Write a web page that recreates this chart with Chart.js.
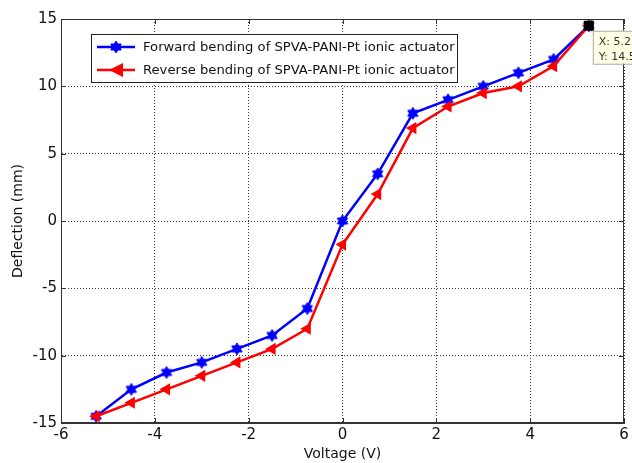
<!DOCTYPE html>
<html>
<head>
<meta charset="utf-8">
<script src="https://cdn.jsdelivr.net/npm/chart.js@4"></script>
<style>
  html, body { margin: 0; padding: 0; background: #fff; }
  #wrap { width: 632px; height: 463px; }
</style>
</head>
<body>
<div id="wrap"><canvas id="kmChart" width="632" height="463"></canvas></div>
<script>
// dados
const voltagens = [-5.25, -4.5, -3.75, -3, -2.25, -1.5, -0.75, 0, 0.75, 1.5, 2.25, 3, 3.75, 4.5, 5.25];
const forward = [-14.5, -12.5, -11.25, -10.5, -9.5, -8.5, -6.5, 0, 3.5, 8, 9, 10, 11, 12, 14.5];
const reverse = [-14.5, -13.5, -12.5, -11.5, -10.5, -9.5, -8, -1.75, 2, 6.9, 8.5, 9.5, 10, 11.5, 14.5];
const xTicks = [-6, -4, -2, 0, 2, 4, 6];
const yTicks = [-15, -10, -5, 0, 5, 10, 15];
const nomes = ["Forward bending of SPVA-PANI-Pt ionic actuator", "Reverse bending of SPVA-PANI-Pt ionic actuator"];
const dataTip = { x: 5.25, y: 14.5 };

const FONTE = '"DejaVu Sans", Verdana, sans-serif';

// marcador hexagrama (estrela de 6 pontas)
function hexagrama(cor, r) {
  const c = document.createElement("canvas");
  const s = Math.ceil(r * 2 + 4);
  c.width = s; c.height = s;
  const g = c.getContext("2d");
  g.fillStyle = cor;
  g.strokeStyle = cor;
  g.lineWidth = 1;
  const cx = s / 2, cy = s / 2;
  for (const off of [-Math.PI / 2, Math.PI / 2]) {
    g.beginPath();
    for (let i = 0; i < 3; i++) {
      const a = off + i * 2 * Math.PI / 3;
      const px = cx + r * Math.cos(a), py = cy + r * Math.sin(a);
      i ? g.lineTo(px, py) : g.moveTo(px, py);
    }
    g.closePath();
    g.fill();
    g.stroke();
  }
  return c;
}
const estrelaAzul = hexagrama("#0000ff", 6);

const pontos = arr => voltagens.map((v, i) => ({ x: v, y: arr[i] }));

// caixa do eixo + legenda + data tip
const extras = {
  id: "extras",
  afterDraw(chart) {
    const ctx = chart.ctx;
    const a = chart.chartArea;
    const xs = chart.scales.x, ys = chart.scales.y;
    ctx.save();
    ctx.strokeStyle = "#333";
    ctx.lineWidth = 1;
    ctx.strokeRect(a.left + 0.5, a.top + 0.5, a.right - a.left - 1, a.bottom - a.top - 1);

    // tiques internos (estilo MATLAB)
    ctx.beginPath();
    for (const t of xTicks) {
      const px = Math.round(xs.getPixelForValue(t)) + 0.5;
      ctx.moveTo(px, a.bottom); ctx.lineTo(px, a.bottom - 5);
      ctx.moveTo(px, a.top); ctx.lineTo(px, a.top + 5);
    }
    for (const t of yTicks) {
      const py = Math.round(ys.getPixelForValue(t)) + 0.5;
      ctx.moveTo(a.left, py); ctx.lineTo(a.left + 5, py);
      ctx.moveTo(a.right, py); ctx.lineTo(a.right - 5, py);
    }
    ctx.stroke();

    // legenda
    const lx = 91, ly = 34, lw = 366, lh = 48;
    ctx.fillStyle = "#fff";
    ctx.fillRect(lx, ly, lw, lh);
    ctx.strokeStyle = "#222";
    ctx.strokeRect(lx + 0.5, ly + 0.5, lw, lh);
    let tam = 15;
    ctx.font = `${tam}px ${FONTE}`;
    const w = ctx.measureText(nomes[0]).width;
    tam = tam * 312 / w;
    ctx.font = `${tam}px ${FONTE}`;
    ctx.textBaseline = "middle";
    ctx.textAlign = "left";
    const linhas = [[47, "#0000ff"], [70, "#ff0000"]];
    linhas.forEach(([yy, cor], i) => {
      ctx.strokeStyle = cor;
      ctx.lineWidth = 2.5;
      ctx.beginPath(); ctx.moveTo(97, yy); ctx.lineTo(135, yy); ctx.stroke();
      if (i === 0) {
        ctx.drawImage(estrelaAzul, 116 - estrelaAzul.width / 2, yy - estrelaAzul.height / 2);
      } else {
        ctx.fillStyle = cor;
        ctx.beginPath();
        ctx.moveTo(109, yy); ctx.lineTo(123, yy - 7); ctx.lineTo(123, yy + 7); ctx.closePath();
        ctx.fill();
      }
      ctx.fillStyle = "#111";
      ctx.fillText(nomes[i], 143, yy + 1);
    });

    // data tip
    const px = xs.getPixelForValue(dataTip.x), py = ys.getPixelForValue(dataTip.y);
    ctx.fillStyle = "#ffffe4";
    ctx.strokeStyle = "#aaa";
    ctx.lineWidth = 1;
    ctx.fillRect(px + 4, py + 5, 50, 33);
    ctx.strokeRect(px + 4.5, py + 5.5, 50, 33);
    ctx.fillStyle = "#000";
    ctx.fillRect(px - 5, py - 5, 10, 10);
    ctx.fillStyle = "#333";
    ctx.font = `11px ${FONTE}`;
    ctx.fillText("X: " + dataTip.x, px + 10, py + 16);
    ctx.fillText("Y: " + dataTip.y, px + 10, py + 31);
    ctx.restore();
  }
};

const ctx = document.getElementById("kmChart");
new Chart(ctx, {
  type: "line",
  data: {
    datasets: [
      {
        label: nomes[1],
        data: pontos(reverse),
        borderColor: "#ff0000",
        backgroundColor: "#ff0000",
        borderWidth: 2.5,
        pointStyle: "triangle",
        pointRotation: -90,
        pointRadius: 7,
        pointBorderWidth: 0,
        tension: 0
      },
      {
        label: nomes[0],
        data: pontos(forward),
        borderColor: "#0000ff",
        backgroundColor: "#0000ff",
        borderWidth: 2.5,
        pointStyle: estrelaAzul,
        tension: 0
      }
    ]
  },
  options: {
    responsive: false,
    animation: false,
    events: [],
    layout: { padding: { top: 19, right: 8, left: 0, bottom: 0 } },
    plugins: { legend: { display: false }, tooltip: { enabled: false } },
    scales: {
      x: {
        type: "linear",
        min: -6, max: 6,
        afterBuildTicks: s => { s.ticks = xTicks.map(v => ({ value: v })); },
        afterFit: s => { s.height = 40; },
        ticks: { color: "#111", font: { family: FONTE, size: 15 }, padding: 3, maxRotation: 0 },
        grid: { color: "#333", lineWidth: 1, drawTicks: false },
        border: { display: true, color: "#333", dash: [1, 2] },
        title: { display: true, text: "Voltage (V)", color: "#111", font: { family: FONTE, size: 14 }, padding: { top: 0, bottom: 0 } }
      },
      y: {
        type: "linear",
        min: -15, max: 15,
        afterBuildTicks: s => { s.ticks = yTicks.map(v => ({ value: v })); },
        afterFit: s => { s.width = 61; },
        ticks: { color: "#111", font: { family: FONTE, size: 15 }, padding: 4 },
        grid: { color: "#333", lineWidth: 1, drawTicks: false },
        border: { display: true, color: "#333", dash: [1, 2] },
        title: { display: true, text: "Deflection (mm)", color: "#111", font: { family: FONTE, size: 14 }, padding: { top: 10, bottom: 0 } }
      }
    }
  },
  plugins: [extras]
});
</script>
</body>
</html>
